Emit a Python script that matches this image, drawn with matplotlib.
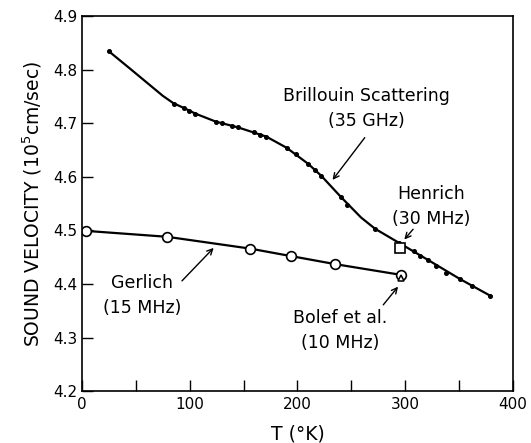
import matplotlib
matplotlib.use("Agg")
import matplotlib.pyplot as plt

# Brillouin scattering (35 GHz)
bril_T = [25, 85, 95, 99, 105, 124, 130, 139, 145, 160, 165, 171, 190, 199, 210, 216, 222,
          240, 246, 272, 294, 308, 314, 321, 329, 338, 351, 362, 379]
bril_v = [4.834, 4.735, 4.729, 4.723, 4.718, 4.703, 4.700, 4.695, 4.692, 4.683, 4.678, 4.675,
          4.654, 4.643, 4.624, 4.612, 4.602, 4.563, 4.548, 4.503, 4.477, 4.462, 4.453, 4.445,
          4.434, 4.421, 4.409, 4.396, 4.378]
# drawn curve through the points (read off the picture where there are no dots)
curve_T = [25, 45, 60, 75, 85, 95, 105, 124, 145, 171, 190, 210, 222, 240, 259, 272, 294, 321, 351, 379]
curve_v = [4.834, 4.801, 4.776, 4.751, 4.737, 4.728, 4.718, 4.703, 4.692, 4.675, 4.654, 4.624,
           4.602, 4.563, 4.524, 4.503, 4.477, 4.445, 4.409, 4.378]
# Gerlich (15 MHz)
ger_T = [4, 79, 156, 194, 235, 296]
ger_v = [4.499, 4.488, 4.466, 4.452, 4.437, 4.417]
# Henrich (30 MHz), Bolef et al. (10 MHz)
hen_T = [295]
hen_v = [4.467]
bol_T = [296]
bol_v = [4.412]

plt.rcParams['font.family'] = ['DejaVu Sans']
fig = plt.figure(figsize=(5.31, 4.43), dpi=100)
ax = fig.add_axes([0.1544, 0.117, 0.8116, 0.847])

ax.plot(curve_T, curve_v, '-', color='black', lw=1.6, solid_joinstyle='round')
ax.plot(bril_T, bril_v, 'o', color='black', ms=2.6)
ax.plot(ger_T, ger_v, '-', color='black', lw=1.6)
ax.plot(ger_T, ger_v, 'o', mfc='white', mec='black', ms=7, mew=1.2)
ax.plot(hen_T, hen_v, 's', mfc='white', mec='black', ms=7, mew=1.2)
ax.plot(bol_T, bol_v, '^', mfc='white', mec='black', ms=5, mew=1.1)

ax.set_xlim(0, 400)
ax.set_ylim(4.2, 4.9)
ax.set_xticks(range(0, 401, 50))
ax.set_xticklabels(['0', '', '100', '', '200', '', '300', '', '400'])
ax.set_yticks([4.2, 4.3, 4.4, 4.5, 4.6, 4.7, 4.8, 4.9])
ax.tick_params(direction='in', length=8, width=1, labelsize=11, pad=4)
ax.tick_params(axis='y', pad=3)
for s in ax.spines.values():
    s.set_linewidth(1.2)

ax.set_xlabel('T (°K)', fontsize=13.5, labelpad=9)
ax.set_ylabel('SOUND VELOCITY (10$^5$cm/sec)', fontsize=13.5, labelpad=7)

arr = dict(arrowstyle='->', color='black', lw=1.0)
fs = 12.5
ls = 1.5
ax.text(264, 4.727, 'Brillouin Scattering\n(35 GHz)', ha='center', va='center', fontsize=fs, linespacing=ls)
ax.annotate('', xy=(231, 4.59), xytext=(264, 4.677), arrowprops=arr)
ax.text(324, 4.545, 'Henrich\n(30 MHz)', ha='center', va='center', fontsize=fs, linespacing=ls)
ax.annotate('', xy=(297.5, 4.479), xytext=(309, 4.506), arrowprops=arr)
ax.text(56, 4.378, 'Gerlich\n(15 MHz)', ha='center', va='center', fontsize=fs, linespacing=ls)
ax.annotate('', xy=(124, 4.471), xytext=(91, 4.402), arrowprops=arr)
ax.text(240, 4.313, 'Bolef et al.\n(10 MHz)', ha='center', va='center', fontsize=fs, linespacing=ls)
ax.annotate('', xy=(295, 4.399), xytext=(278, 4.357), arrowprops=arr)

fig.savefig('out.png', dpi=100)
